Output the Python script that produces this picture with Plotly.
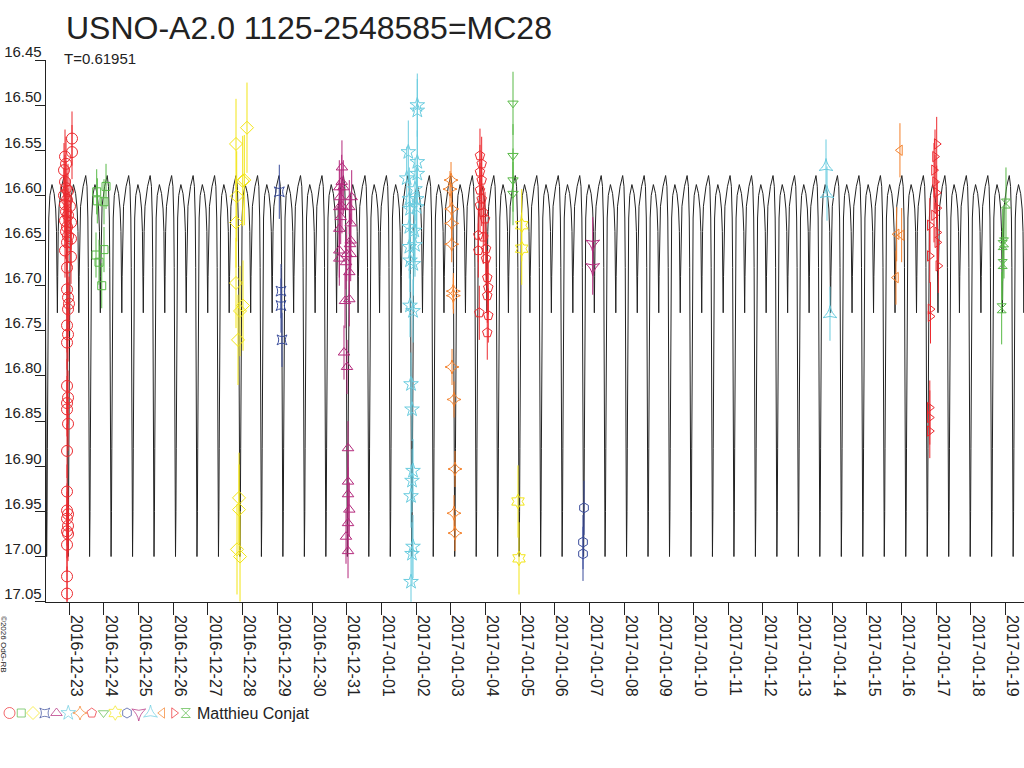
import numpy as np
import pandas as pd
import plotly.graph_objects as go

base = pd.Timestamp("2016-12-23")

# model light curve: one cycle, repeated with the period
period = 0.61951
epoch = -0.654  # primary minimum, days after 2016-12-23 00:00
lc_phase = [0.000, 0.020, 0.035, 0.050, 0.060, 0.075, 0.100, 0.150, 0.250, 0.350,
            0.420, 0.460, 0.485, 0.500, 0.515, 0.540, 0.580, 0.700, 0.820, 0.880,
            0.920, 0.940, 0.955, 0.968, 0.982]
lc_mag = [17.000, 16.950, 16.880, 16.790, 16.720, 16.660, 16.625, 16.600, 16.588, 16.598,
          16.615, 16.640, 16.690, 16.730, 16.690, 16.640, 16.612, 16.590, 16.578, 16.590,
          16.625, 16.680, 16.760, 16.850, 16.930]

# observations: days after 2016-12-23 00:00 / magnitude
s1_t = [-0.124, -0.095, -0.153, 0.078, 0.078, -0.124, -0.095, -0.037, -0.153, -0.066,
        -0.124, 0.020, -0.095, -0.037, -0.124, 0.049, -0.066, -0.095, -0.037, 0.049,
        -0.066, -0.124, 0.049, -0.066, -0.066, -0.037, -0.009, -0.037, -0.066, -0.037,
        -0.066, -0.066, -0.037, -0.066, -0.066, -0.037, -0.066, -0.066, -0.066, -0.037,
        -0.066, -0.037, -0.066, -0.037, -0.066, -0.066, -0.066]
s1_mag = [16.557, 16.565, 16.572, 16.537, 16.552, 16.585, 16.592, 16.595, 16.600, 16.605,
          16.610, 16.612, 16.618, 16.622, 16.628, 16.630, 16.635, 16.640, 16.645, 16.648,
          16.652, 16.661, 16.668, 16.680, 16.704, 16.713, 16.720, 16.726, 16.744, 16.754,
          16.763, 16.811, 16.824, 16.830, 16.837, 16.853, 16.883, 16.928, 16.949, 16.953,
          16.958, 16.966, 16.972, 16.975, 16.987, 17.022, 17.041]

s2_t = [0.790, 1.059, 1.001, 0.808, 0.770, 0.857, 1.001, 0.935]
s2_mag = [16.596, 16.590, 16.607, 16.606, 16.666, 16.674, 16.660, 16.700]

s3_t = [4.808, 5.125, 5.048, 5.001, 4.828, 4.808, 4.808, 4.924, 5.010, 4.866,
        4.895, 4.895, 4.837, 4.924]
s3_mag = [16.543, 16.525, 16.583, 16.584, 16.601, 16.630, 16.697, 16.728, 16.722, 16.760,
          16.935, 16.948, 16.992, 17.000]

s4_t = [6.057, 6.106, 6.106, 6.135]
s4_mag = [16.596, 16.706, 16.722, 16.760]

s5_t = [7.864, 7.857, 7.788, 7.903, 7.807, 7.788, 7.864, 8.145, 8.076, 7.828,
        8.116, 7.788, 8.116, 8.097, 7.788, 8.001, 8.116, 7.788, 7.981, 8.076,
        7.952, 8.076, 7.923, 8.010, 8.039, 8.039, 8.039, 8.076, 8.039, 7.981, 8.039]
s5_mag = [16.569, 16.585, 16.591, 16.591, 16.602, 16.613, 16.612, 16.602, 16.613, 16.624,
          16.631, 16.637, 16.650, 16.654, 16.661, 16.665, 16.665, 16.670, 16.674, 16.685,
          16.717, 16.715, 16.774, 16.790, 16.880, 16.917, 16.931, 16.948, 16.963, 16.978, 16.994]

s6_t = [10.037, 10.037, 9.778, 10.037, 10.037, 9.732, 9.971, 9.807, 10.020, 9.827,
        10.020, 9.807, 9.951, 9.807, 9.971, 9.827, 9.922, 9.827, 9.914, 9.856,
        9.885, 9.914, 9.885, 9.856, 9.914, 9.885, 9.856]
s6_mag = [16.500, 16.506, 16.552, 16.563, 16.576, 16.581, 16.593, 16.604, 16.604, 16.615,
          16.613, 16.635, 16.639, 16.657, 16.655, 16.672, 16.676, 16.722, 16.728, 16.809,
          16.837, 16.905, 16.916, 16.933, 16.989, 16.997, 17.028]

s7_t = [11.010, 10.981, 11.030, 11.030, 11.030, 11.076, 11.076, 11.039, 11.096, 11.125,
        11.096, 11.125]
s7_mag = [16.583, 16.593, 16.615, 16.631, 16.654, 16.706, 16.711, 16.790, 16.826, 16.903,
          16.952, 16.974]

s8_t = [11.845, 11.894, 11.845, 11.894, 11.845, 11.894, 11.845, 11.941, 11.990, 11.797,
        11.941, 11.797, 12.019, 12.019, 12.056, 12.085, 12.056, 11.826, 12.085, 12.056]
s8_mag = [16.556, 16.565, 16.574, 16.583, 16.594, 16.604, 16.611, 16.619, 16.626, 16.644,
          16.646, 16.661, 16.659, 16.670, 16.691, 16.702, 16.711, 16.730, 16.733, 16.752]

s9_t = [12.798, 12.798, 12.798, 12.798]
s9_mag = [16.498, 16.556, 16.583, 16.598]

s10_t = [13.049, 13.049, 12.942, 12.971]
s10_mag = [16.633, 16.659, 16.939, 17.002]

s11_t = [14.846, 14.817, 14.817]
s11_mag = [16.946, 16.984, 16.997]

s12_t = [15.097, 15.097]
s12_mag = [16.654, 16.680]

s13_t = [21.826, 21.855, 21.941]
s13_mag = [16.568, 16.598, 16.731]

s14_t = [23.959, 23.864, 24.008, 23.844]
s14_mag = [16.550, 16.643, 16.644, 16.691]

s15_t = [25.019, 24.970, 24.941, 24.970, 25.019, 25.036, 24.941, 24.820, 25.036, 25.036,
         24.820, 25.066, 24.840, 24.840, 24.820, 24.820, 24.820]
s15_mag = [16.543, 16.557, 16.572, 16.585, 16.597, 16.614, 16.622, 16.633, 16.641, 16.652,
           16.667, 16.678, 16.726, 16.734, 16.835, 16.846, 16.861]

s16_t = [27.017, 26.960, 26.922, 26.922, 26.893]
s16_mag = [16.609, 16.652, 16.655, 16.676, 16.725]

errs = [0.03, 0.025, 0.05, 0.03, 0.03, 0.035, 0.02, 0.03, 0.035, 0.04,
        0.03, 0.03, 0.03, 0.03, 0.03, 0.04]

obs_t = [s1_t, s2_t, s3_t, s4_t, s5_t, s6_t, s7_t, s8_t, s9_t, s10_t,
         s11_t, s12_t, s13_t, s14_t, s15_t, s16_t]
obs_mag = [s1_mag, s2_mag, s3_mag, s4_mag, s5_mag, s6_mag, s7_mag, s8_mag, s9_mag, s10_mag,
           s11_mag, s12_mag, s13_mag, s14_mag, s15_mag, s16_mag]

observer = "Matthieu Conjat"
ytick_vals = [16.45, 16.50, 16.55, 16.60, 16.65, 16.70, 16.75, 16.80, 16.85, 16.90,
              16.95, 17.00, 17.05]

# styles
RED, GREEN, YELLOW, BLUE = "#ec2a2f", "#58b947", "#f2e516", "#3a4d9c"
MAGENTA, CYAN, ORANGE = "#b4297c", "#6accdf", "#f4812b"
colors = [RED, GREEN, YELLOW, BLUE, MAGENTA, CYAN, ORANGE, RED,
          GREEN, YELLOW, BLUE, MAGENTA, CYAN, ORANGE, RED, GREEN]
symbols = ["circle-open", "square-open", "diamond-open", "star-square-open",
           "triangle-up-open", "star-open", "star-diamond-open", "pentagon-open",
           "triangle-down-open", "hexagram-open", "hexagon-open", "star-triangle-down-open",
           "star-triangle-up-open", "triangle-left-open", "triangle-right-open", "hourglass-open"]
sizes = [11, 8, 10, 9, 10, 11, 10, 10, 9, 11, 10, 10, 10, 9, 9, 9]


def to_date(days):
    return base + pd.to_timedelta(np.asarray(days, dtype=float), unit="D")


fig = go.Figure()

# light curve
cyc_t = []
cyc_m = []
for n in range(-2, 47):
    cyc_t.extend([epoch + (n + p) * period for p in lc_phase])
    cyc_m.extend(lc_mag)
fig.add_trace(go.Scatter(x=to_date(cyc_t), y=cyc_m, mode="lines",
                         line=dict(color="#222222", width=1), hoverinfo="skip"))

for i in range(len(obs_t)):
    fig.add_trace(go.Scatter(
        x=to_date(obs_t[i]), y=obs_mag[i], mode="markers",
        marker=dict(symbol=symbols[i], size=sizes[i], color=colors[i],
                    line=dict(color=colors[i], width=1)),
        error_y=dict(type="constant", value=errs[i], color=colors[i],
                     thickness=1, width=0),
    ))

# symbol row under the chart (legend)
fig.add_trace(go.Scatter(
    x=[9.5 + 11.75 * i for i in range(len(symbols))], y=[713] * len(symbols),
    mode="markers", xaxis="x2", yaxis="y2",
    marker=dict(symbol=symbols, size=sizes, color=colors,
                line=dict(color=colors, width=1)),
    hoverinfo="skip"))

W, H = 1024, 768
fig.update_layout(
    width=W, height=H,
    margin=dict(l=0, r=0, t=0, b=0, autoexpand=False),
    paper_bgcolor="white",
    plot_bgcolor="rgba(0,0,0,0)",
    showlegend=False,
    font=dict(family="Liberation Sans, Arial, sans-serif", color="#222222", size=16),
    xaxis=dict(
        type="date", domain=[45.7 / W, 1], anchor="y", automargin=False,
        range=[to_date([-0.681])[0], to_date([27.537])[0]],
        showline=True, linecolor="#222222", linewidth=1,
        ticks="outside", ticklen=12, tickcolor="#222222",
        tick0="2016-12-23", dtick=86400000, tickformat="%Y-%m-%d",
        tickangle=90, ticklabelshift=7, ticklabelstandoff=-3,
        showgrid=False, zeroline=False,
        tickfont=dict(size=16),
    ),
    yaxis=dict(
        domain=[1 - 601.7 / H, 1 - 60 / H], anchor="x", automargin=False,
        range=[17.05, 16.45],
        tickvals=ytick_vals, ticktext=["%.2f" % v for v in ytick_vals],
        showline=True, linecolor="#222222", linewidth=1,
        ticks="outside", ticklen=10, tickcolor="#222222",
        ticklabelshift=8, ticklabelstandoff=-10,
        showgrid=False, zeroline=False,
        tickfont=dict(size=15),
    ),
    xaxis2=dict(domain=[0, 1], range=[0, W], visible=False, anchor="y2",
                fixedrange=True, automargin=False),
    yaxis2=dict(domain=[0, 1], range=[H, 0], visible=False, anchor="x2",
                fixedrange=True, automargin=False),
)

fig.add_annotation(text="USNO-A2.0 1125-2548585=MC28", xref="paper", yref="paper",
                   x=64 / W, y=1 - 28 / H, xanchor="left", yanchor="middle",
                   showarrow=False, font=dict(size=32, color="#222222"))
fig.add_annotation(text="T=%.5f" % period, xref="paper", yref="paper",
                   x=62 / W, y=1 - 58.5 / H, xanchor="left", yanchor="middle",
                   showarrow=False, font=dict(size=15, color="#222222"))
fig.add_annotation(text=observer, xref="paper", yref="paper",
                   x=195 / W, y=1 - 713 / H, xanchor="left", yanchor="middle",
                   showarrow=False, font=dict(size=16, color="#222222"))
fig.add_annotation(text="©2026 OdG-RB", xref="paper", yref="paper",
                   x=4 / W, y=1 - 644 / H, xanchor="center", yanchor="middle",
                   textangle=90, showarrow=False, font=dict(size=8, color="#222222"))

fig.write_html("out.html", config={"displayModeBar": False},
               post_script="document.body.style.margin='0';")
